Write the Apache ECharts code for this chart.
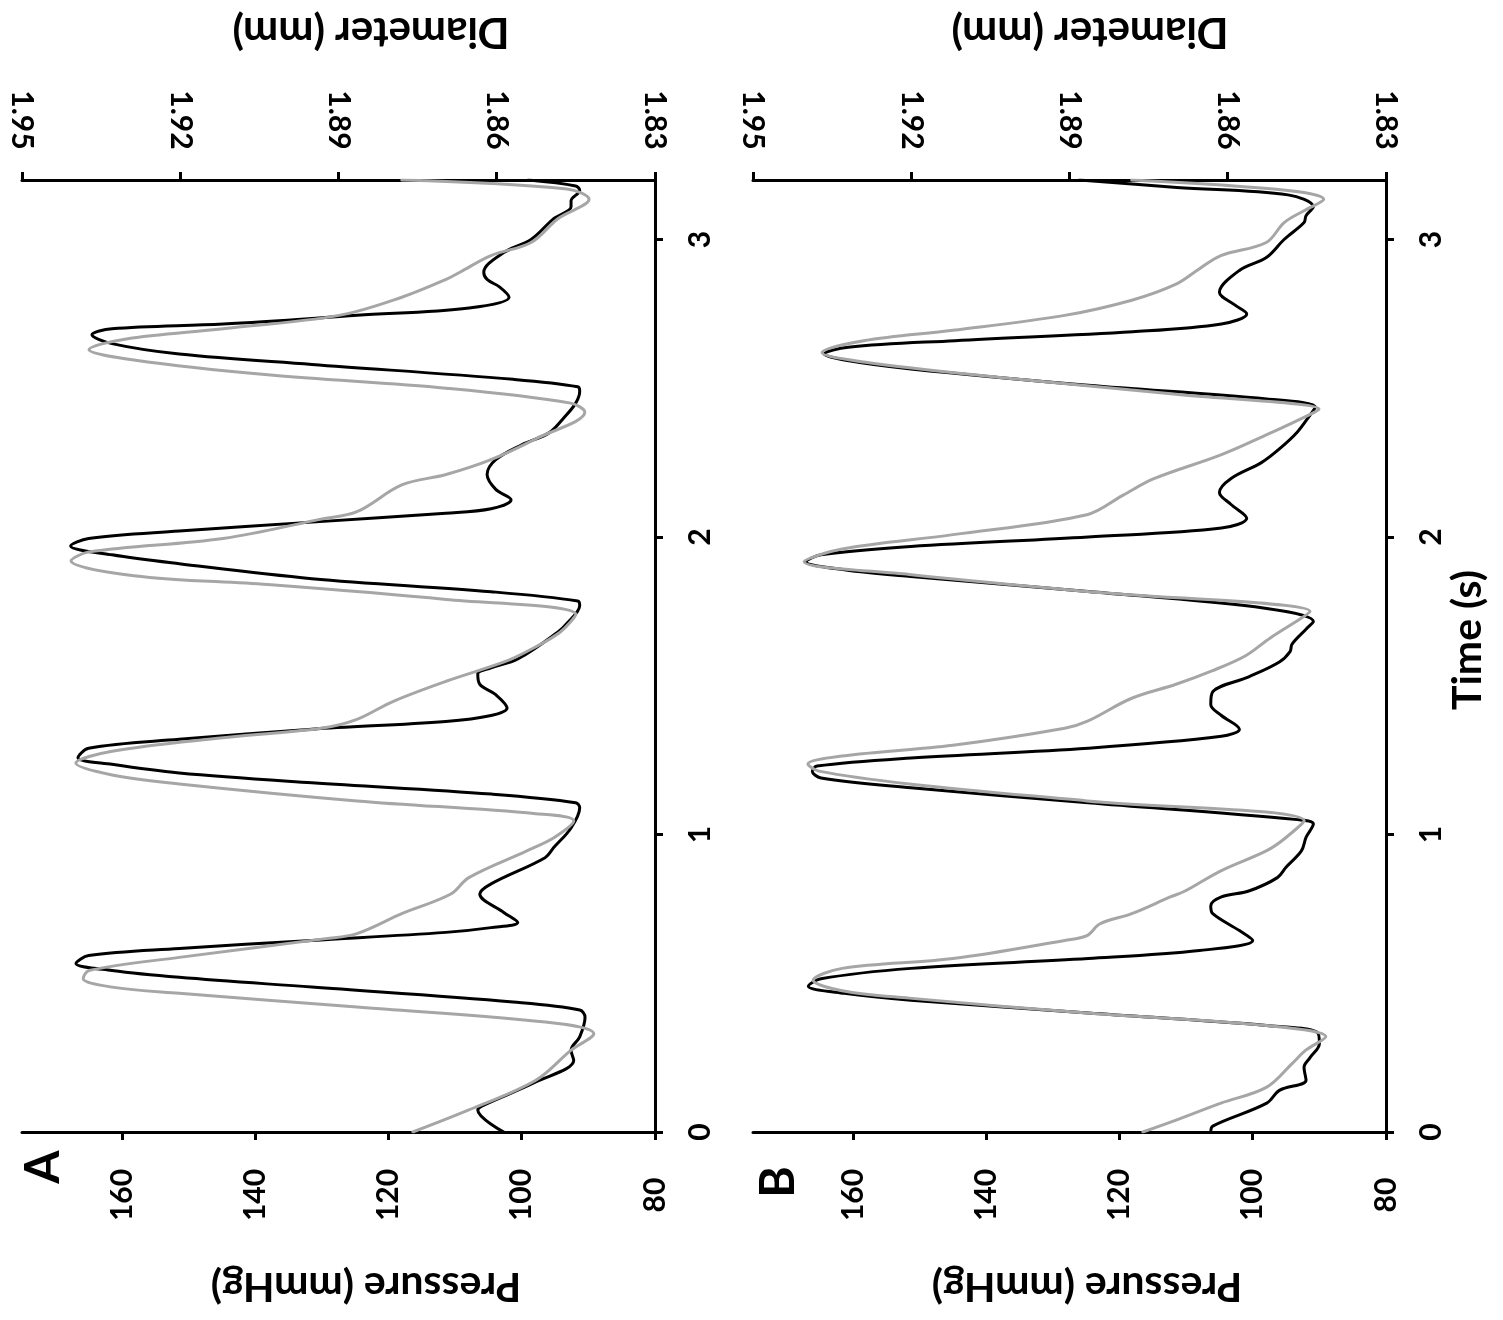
<!DOCTYPE html>
<html>
<head>
<meta charset="utf-8">
<script src="https://cdn.jsdelivr.net/npm/echarts@6/dist/echarts.min.js"></script>
<style>
html,body{margin:0;padding:0;background:#fff;}
#main{width:1503px;height:1320px;}
</style>
</head>
<body>
<div id="main"></div>
<script>
// ---- tick labels ----
const timeTicks = [0, 1, 2, 3];
const pressureTicks = [80, 100, 120, 140, 160];
const diameterTicks = [1.83, 1.86, 1.89, 1.92, 1.95];

// ---- Panel A: [time (s), pressure (mmHg)] ----
const aPressureTrace = [
 [0.00,102.7],[0.074,106.6],[0.087,106.0],[0.168,97.9],[0.241,92.2],[0.275,92.6],[0.32,91.3],[0.386,90.5],[0.41,91.3],
 [0.437,101.3],[0.487,131.5],[0.52,151.4],[0.543,161.5],[0.566,166.9],[0.593,165.0],[0.617,151.4],[0.644,131.5],[0.671,111.4],
 [0.687,104.6],[0.704,100.6],[0.738,102.7],[0.80,106.3],[0.834,104.6],[0.922,96.5],[0.956,95.2],[1.022,92.6],[1.09,91.3],[1.107,91.9],
 [1.136,104.6],[1.174,131.5],[1.207,151.4],[1.236,161.5],[1.258,166.6],[1.29,165.0],[1.32,151.4],[1.354,131.5],[1.38,111.4],
 [1.40,104.6],[1.425,102.2],[1.47,103.9],[1.505,106.3],[1.54,106.6],[1.56,104.6],[1.59,100.6],[1.68,94.6],[1.71,93.2],[1.77,91.3],[1.785,91.6],
 [1.816,104.6],[1.86,131.5],[1.91,151.4],[1.94,161.5],[1.97,167.7],[1.995,165.0],[2.02,151.4],[2.05,131.5],[2.08,111.4],
 [2.095,104.6],[2.125,101.6],[2.16,103.9],[2.21,105.2],[2.26,103.9],[2.31,100.0],[2.35,95.9],[2.40,93.7],[2.45,91.9],[2.49,91.3],[2.505,91.6],
 [2.53,101.3],[2.58,131.5],[2.615,151.4],[2.65,161.5],[2.68,164.5],[2.70,161.5],[2.716,144.8],[2.745,124.7],[2.77,107.9],
 [2.806,101.9],[2.84,103.3],[2.866,105.2],[2.89,105.7],[2.956,102.7],[3.0,98.6],[3.07,95.2],[3.11,92.6],[3.13,92.6],[3.165,91.3],[3.18,91.9],[3.2,99.0]
];
// ---- Panel A: [time (s), diameter (mm)] ----
const aDiameterTrace = [
 [0.0,1.8759],[0.074,1.8653],[0.174,1.8526],[0.275,1.8459],[0.33,1.8416],[0.365,1.8484],[0.42,1.8865],[0.466,1.9202],[0.487,1.9329],
 [0.516,1.9384],[0.543,1.9373],[0.587,1.9202],[0.65,1.8924],[0.667,1.8865],[0.734,1.8780],[0.80,1.8687],[0.855,1.8653],[0.945,1.8543],
 [0.99,1.8491],[1.046,1.8454],[1.07,1.8526],[1.113,1.8865],[1.17,1.9202],[1.20,1.9329],[1.24,1.9398],[1.28,1.9329],[1.325,1.9119],
 [1.357,1.8933],[1.387,1.8865],[1.447,1.8797],[1.515,1.8696],[1.58,1.8586],[1.615,1.8543],[1.68,1.8480],[1.74,1.8450],[1.79,1.8696],
 [1.84,1.9034],[1.87,1.9288],[1.92,1.9407],[1.95,1.9373],[1.995,1.9119],[2.06,1.8933],[2.085,1.8865],[2.175,1.8780],[2.21,1.8696],
 [2.26,1.8611],[2.33,1.8526],[2.42,1.8433],[2.45,1.8460],[2.50,1.8696],[2.545,1.9034],[2.595,1.9288],[2.63,1.9373],[2.665,1.9305],
 [2.70,1.9119],[2.745,1.8899],[2.806,1.8780],[2.866,1.8696],[2.89,1.8670],[2.946,1.8611],[2.99,1.8535],[3.07,1.8484],[3.135,1.8425],
 [3.17,1.8467],[3.2,1.8780]
];
// ---- Panel B: [time (s), pressure (mmHg)] ----
const bPressureTrace = [
 [0.0,106.3],[0.02,106.0],[0.097,97.9],[0.14,96.0],[0.174,92.0],[0.218,92.3],[0.25,91.4],[0.297,90.0],[0.335,90.3],
 [0.358,97.9],[0.40,124.7],[0.443,151.3],[0.466,161.3],[0.49,166.7],[0.515,164.8],[0.55,151.3],[0.583,124.7],[0.61,108.0],
 [0.644,100.0],[0.677,102.0],[0.734,106.0],[0.76,106.3],[0.79,104.7],[0.81,100.6],[0.855,96.3],[0.89,95.0],[0.945,92.7],[0.99,92.0],[1.035,90.9],
 [1.05,93.3],[1.107,124.7],[1.157,151.3],[1.19,164.8],[1.213,166.1],[1.23,165.4],[1.257,151.3],[1.29,124.7],[1.33,104.7],
 [1.354,102.0],[1.40,104.7],[1.437,106.3],[1.48,106.0],[1.53,100.6],[1.58,96.0],[1.615,94.4],[1.64,94.1],[1.69,92.0],[1.716,90.9],
 [1.76,97.9],[1.817,124.7],[1.867,151.3],[1.89,161.3],[1.917,167.0],[1.94,164.8],[1.968,151.3],[2.0,124.7],[2.03,104.7],
 [2.063,100.9],[2.11,103.3],[2.15,105.0],[2.196,103.3],[2.25,98.7],[2.296,96.0],[2.353,93.3],[2.41,91.4],[2.437,90.6],
 [2.464,97.9],[2.51,124.7],[2.565,151.3],[2.595,161.3],[2.615,164.3],[2.638,160.7],[2.66,144.7],[2.69,118.0],[2.716,104.7],
 [2.75,100.9],[2.78,102.7],[2.823,105.0],[2.896,102.0],[2.94,97.9],[3.0,95.3],[3.057,92.3],[3.08,92.0],[3.11,90.9],[3.15,94.7],[3.175,111.4],[3.2,126.0]
];
// ---- Panel B: [time (s), diameter (mm)] ----
const bDiameterTrace = [
 [0.0,1.8761],[0.04,1.8698],[0.097,1.8613],[0.15,1.8527],[0.23,1.8478],[0.275,1.8452],[0.32,1.8414],[0.358,1.8527],[0.40,1.8867],
 [0.45,1.9204],[0.475,1.9331],[0.51,1.9386],[0.55,1.9331],[0.583,1.9121],[0.644,1.8909],[0.66,1.8867],[0.70,1.8842],[0.734,1.8782],
 [0.79,1.8709],[0.81,1.8681],[0.878,1.8613],[0.945,1.8527],[0.985,1.8493],[1.046,1.8455],[1.113,1.8867],[1.17,1.9204],[1.213,1.9375],
 [1.237,1.9396],[1.264,1.9331],[1.30,1.9121],[1.357,1.8909],[1.38,1.8867],[1.458,1.8782],[1.505,1.8698],[1.55,1.8630],[1.60,1.8567],
 [1.66,1.8520],[1.727,1.8461],[1.75,1.8444],[1.817,1.8867],[1.874,1.9204],[1.917,1.9403],[1.96,1.9331],[2.008,1.9121],[2.075,1.8867],
 [2.14,1.8799],[2.196,1.8740],[2.276,1.8613],[2.343,1.8527],[2.42,1.8435],[2.43,1.8427],[2.48,1.8698],[2.537,1.9036],[2.588,1.9290],
 [2.62,1.9369],[2.66,1.9290],[2.695,1.9121],[2.745,1.8909],[2.796,1.8782],[2.85,1.8698],[2.9,1.8655],[2.946,1.8613],[2.99,1.8527],
 [3.057,1.8493],[3.10,1.8452],[3.135,1.8418],[3.165,1.8486],[3.2,1.8782]
];

const FONT = 'Lato';
const BLACK = '#000000';
const GRAY = '#a6a6a6';

function labelStyle(margin, extra) {
  return Object.assign({
    rotate: 90, align: 'center', verticalAlign: 'middle', margin: margin,
    fontFamily: FONT, fontWeight: 'bold', fontSize: 30, color: '#000'
  }, extra || {});
}
function axisBase() {
  return {
    axisLine: { show: true, onZero: false, lineStyle: { color: '#000', width: 3 } },
    splitLine: { show: false }
  };
}
function pressureAxis(gi) {
  return Object.assign(axisBase(), {
    type: 'value', gridIndex: gi, position: 'bottom', inverse: true, min: 80, max: 175,
    axisTick: { show: true, inside: false, length: 8, customValues: pressureTicks, lineStyle: { color: '#000', width: 3 } },
    axisLabel: labelStyle(63, { customValues: pressureTicks })
  });
}
function diameterAxis(gi) {
  return Object.assign(axisBase(), {
    type: 'value', gridIndex: gi, position: 'top', inverse: true, min: 1.83, max: 1.95,
    axisTick: { show: true, inside: false, length: 8, customValues: diameterTicks, lineStyle: { color: '#000', width: 3 } },
    axisLabel: labelStyle(60, { customValues: diameterTicks, formatter: v => Number(v).toFixed(2) })
  });
}
function timeAxis(gi) {
  return Object.assign(axisBase(), {
    type: 'value', gridIndex: gi, position: 'right', min: 0, max: 3.2,
    axisTick: { show: true, inside: false, length: 8, customValues: timeTicks, lineStyle: { color: '#000', width: 3 } },
    axisLabel: labelStyle(45, { customValues: timeTicks })
  });
}
function trace(data, xi, yi, color, z) {
  return {
    type: 'line', xAxisIndex: xi, yAxisIndex: yi,
    data: data.map(d => [d[1], d[0]]),
    showSymbol: false, symbol: 'none', smooth: 0.35,
    lineStyle: { color: color, width: 3, cap: 'round', join: 'round' }, itemStyle: { color: color }, z: z,
    silent: true
  };
}
function txt(text, x, y, rot, size) {
  return {
    type: 'text', x: x, y: y, rotation: rot,
    style: { text: text, fill: '#000', font: 'bold ' + size + 'px ' + FONT,
      align: 'center', verticalAlign: 'middle', textAlign: 'center', textVerticalAlign: 'middle' }
  };
}

const chart = echarts.init(document.getElementById('main'), null, { renderer: 'canvas' });
chart.setOption({
  animation: false,
  backgroundColor: '#ffffff',
  grid: [
    { left: 22, top: 180, width: 633, height: 952, containLabel: false },
    { left: 753, top: 180, width: 633, height: 952, containLabel: false }
  ],
  xAxis: [pressureAxis(0), diameterAxis(0), pressureAxis(1), diameterAxis(1)],
  yAxis: [timeAxis(0), timeAxis(1)],
  series: [
    trace(aPressureTrace, 0, 0, BLACK, 2),
    trace(aDiameterTrace, 1, 0, GRAY, 3),
    trace(bPressureTrace, 2, 1, BLACK, 2),
    trace(bDiameterTrace, 3, 1, GRAY, 3)
  ],
  graphic: [
    txt('Diameter (mm)', 371, 32, Math.PI, 42),
    txt('Diameter (mm)', 1090, 32, Math.PI, 42),
    txt('Pressure (mmHg)', 366, 1286, Math.PI, 41),
    txt('Pressure (mmHg)', 1087, 1286, Math.PI, 41),
    txt('Time (s)', 1468, 640, Math.PI / 2, 41),
    txt('A', 44, 1167, Math.PI / 2, 48),
    txt('B', 779, 1182, Math.PI / 2, 48)
  ]
});
</script>
</body>
</html>
